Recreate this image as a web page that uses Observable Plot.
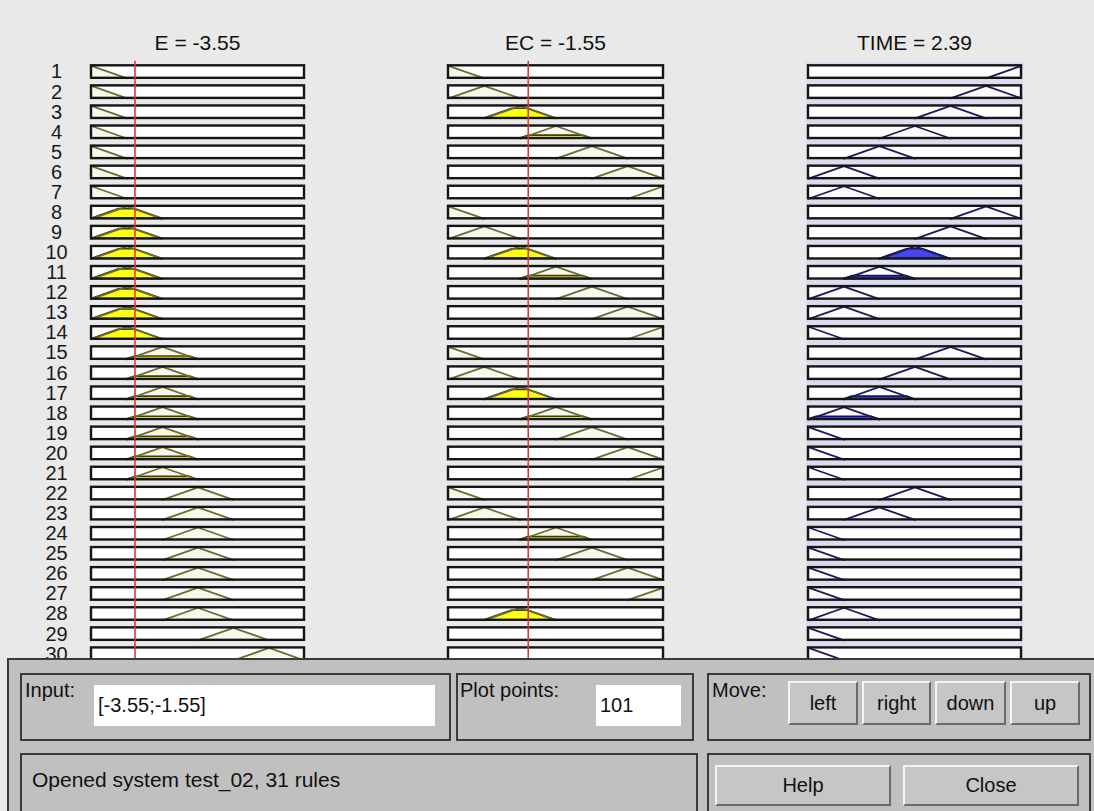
<!DOCTYPE html>
<html>
<head>
<meta charset="utf-8">
<script src="https://cdn.jsdelivr.net/npm/d3@7"></script>
<script src="https://cdn.jsdelivr.net/npm/@observablehq/plot@0.6"></script>
<style>
  html, body { margin: 0; padding: 0; background: #e9e9e9; width: 1094px; height: 811px; overflow: hidden;
    font-family: "Liberation Sans", Arial, sans-serif; color: #111; }
  #stage { position: relative; width: 1094px; height: 811px; overflow: hidden; }
  .col { position: absolute; top: 0; height: 658px; overflow: hidden; }
  .title { position: absolute; top: 31px; font-size: 21px; line-height: 24px; transform: translateX(-50%); white-space: nowrap; }
  #timebg { position: absolute; left: 806px; top: 62px; width: 217px; height: 600px; background: #dcdcee; }
  #panel { position: absolute; left: 7px; top: 658px; width: 1087px; height: 153px; background: #c0c0c0;
    border-top: 2px solid #3a3a3a; border-left: 2px solid #3a3a3a; box-sizing: border-box; z-index: 5; }
  .frame { position: absolute; border: 2px solid #3a3a3a; box-sizing: border-box; z-index: 6; }
  .lbl { position: absolute; font-size: 20px; line-height: 24px; white-space: nowrap; z-index: 7; }
  .field { position: absolute; background: #fff; z-index: 7; font-size: 20px; box-sizing: border-box; padding-left: 4px;
    display: flex; align-items: center; }
  .btn { position: absolute; background: #c6c6c6; z-index: 7; box-sizing: border-box; font-size: 20px;
    border-top: 2px solid #f4f4f4; border-left: 2px solid #f4f4f4; border-right: 2px solid #6a6a6a; border-bottom: 2px solid #6a6a6a;
    display: flex; align-items: center; justify-content: center; }
</style>
</head>
<body>
<div id="stage">
  <div id="timebg"></div>
</div>
<script>
// ---------------- data ----------------
const ruleNumbers = [1,2,3,4,5,6,7,8,9,10,11,12,13,14,15,16,17,18,19,20,21,22,23,24,25,26,27,28,29,30,31];
// rows whose number label is visible above the control panel
const visibleLabels = [1,2,3,4,5,6,7,8,9,10,11,12,13,14,15,16,17,18,19,20,21,22,23,24,25,26,27,28,29,30];
// centre of the triangular membership function used by each rule (null = input not used)
const eCenters    = [-6,-6,-6,-6,-6,-6,-6, -4,-4,-4,-4,-4,-4,-4, -2,-2,-2,-2,-2,-2,-2, 0,0,0,0,0,0,0, 2,4,6];
const ecCenters   = [-6,-4,-2,0,2,4,6, -6,-4,-2,0,2,4,6, -6,-4,-2,0,2,4,6, -6,-4,0,2,4,6,-2, null,null,null];
const timeCenters = [6,5,4,3,2,1,1, 5,4,3,2,1,1,0, 4,3,2,1,0,0,0, 3,2,0,0,0,0,1,0,0,0];
const inputNames  = ["E", "EC", "TIME"];
const inputE = -3.55, inputEC = -1.55, outputTIME = 2.39;
const eDomain = [-6, 6], ecDomain = [-6, 6], timeDomain = [0, 6];
const eHalfWidth = 2, ecHalfWidth = 2, timeHalfWidth = 1;
const inputText = "[-3.55;-1.55]", plotPoints = "101", statusText = "Opened system test_02, 31 rules";

// ---------------- helpers ----------------
const mu = (x, c, w) => Math.max(0, 1 - Math.abs(x - c) / w);
function shape(rule, c, w, dom, h) {
  const [lo, hi] = dom;
  const a = c - w, b = c + w;
  const L = Math.max(lo, a), R = Math.min(hi, b);
  const xs = [a, c - (1 - h) * w, c + (1 - h) * w, b, lo, hi, c].filter(x => x >= L - 1e-9 && x <= R + 1e-9);
  const uniq = Array.from(new Set(xs.map(x => +x.toFixed(6)))).sort((p, q) => p - q);
  return uniq.map(x => ({rule, x, y: Math.min(h, mu(x, c, w))}));
}
const degE  = eCenters.map(c => c == null ? null : mu(inputE, c, eHalfWidth));
const degEC = ecCenters.map(c => c == null ? null : mu(inputEC, c, ecHalfWidth));
const firing = ruleNumbers.map((r, i) => Math.min(degE[i] ?? 1, degEC[i] ?? 1));

function build(centers, w, dom, levels) {
  const full = [], clipped = [];
  centers.forEach((c, i) => {
    if (c == null) return;
    full.push(...shape(ruleNumbers[i], c, w, dom, 1));
    if (levels[i] > 0) clipped.push(...shape(ruleNumbers[i], c, w, dom, levels[i]));
  });
  return {full, clipped};
}

const fyScale = {domain: ruleNumbers, paddingInner: 0.377, paddingOuter: 0, round: false, axis: null};
const H = 690, MT = 65.3, MB = 10;

function column({centers, w, dom, levels, value, lineColor, paleFill, clipFill, clipStroke, labels, left, mLeft, boxW}) {
  const {full, clipped} = build(centers, w, dom, levels);
  const marks = [
    Plot.rect(ruleNumbers, {fy: d => d, x1: dom[0], x2: dom[1], y1: 0, y2: 1, fill: "white"}),
    Plot.areaY(full, {x: "x", y1: 0, y2: "y", fy: "rule", z: "rule", fill: paleFill}),
    Plot.areaY(clipped, {x: "x", y1: 0, y2: "y", fy: "rule", z: "rule", fill: clipFill, stroke: clipStroke, strokeWidth: 1.7}),
    Plot.line(full, {x: "x", y: "y", fy: "rule", z: "rule", stroke: lineColor, strokeWidth: 1.8}),
    Plot.rect(ruleNumbers, {fy: d => d, x1: dom[0], x2: dom[1], y1: 0, y2: 1, fill: "none", stroke: "#151515", strokeWidth: 2.4})
  ];
  if (value != null) marks.push(Plot.ruleX([value], {stroke: "#d23a3a", strokeWidth: 1.6, insetTop: -4.5, insetBottom: -3}));
  if (labels) marks.push(Plot.text(visibleLabels, {fy: d => d, x: dom[0], y: 0.5, text: d => String(d), dx: -35,
      textAnchor: "middle", fontSize: 20, fill: "#1a1a1a"}));
  const svg = Plot.plot({
    width: mLeft + boxW + 10, height: H,
    marginLeft: mLeft, marginRight: 10, marginTop: MT, marginBottom: MB,
    x: {domain: dom, axis: null},
    y: {domain: [0, 1], axis: null},
    fy: fyScale,
    style: {background: "none", fontFamily: "Liberation Sans, Arial, sans-serif", overflow: "visible"},
    marks
  });
  const div = document.createElement("div");
  div.className = "col";
  div.style.left = left + "px";
  div.appendChild(svg);
  document.getElementById("stage").appendChild(div);
}

column({centers: eCenters, w: eHalfWidth, dom: eDomain, levels: degE, value: inputE,
  lineColor: "#6c6c36", paleFill: "#f8f8ea", clipFill: "#ffff14", clipStroke: "#3c3c14", labels: true,
  left: 0, mLeft: 91, boxW: 213});
column({centers: ecCenters, w: ecHalfWidth, dom: ecDomain, levels: degEC, value: inputEC,
  lineColor: "#6c6c36", paleFill: "#f8f8ea", clipFill: "#ffff14", clipStroke: "#3c3c14", labels: false,
  left: 438, mLeft: 10, boxW: 215});
column({centers: timeCenters, w: timeHalfWidth, dom: timeDomain, levels: firing, value: null,
  lineColor: "#1c1c58", paleFill: "#fafaff", clipFill: "#4646ee", clipStroke: "#14145c", labels: false,
  left: 798, mLeft: 10, boxW: 213});

// ---------------- titles ----------------
const stage = document.getElementById("stage");
function add(cls, text, css) {
  const d = document.createElement("div");
  d.className = cls;
  if (text != null) d.textContent = text;
  Object.assign(d.style, css);
  stage.appendChild(d);
  return d;
}
const titleValues = [inputE, inputEC, outputTIME];
const titleCenters = [197.5, 555.5, 914.5];
inputNames.forEach((n, i) => add("title", `${n} = ${titleValues[i]}`, {left: titleCenters[i] + "px"}));

// ---------------- bottom panel ----------------
add("", null, {}).id = "panel";
add("frame", null, {left: "20px", top: "673px", width: "431px", height: "68px"});
add("frame", null, {left: "456px", top: "673px", width: "238px", height: "68px"});
add("frame", null, {left: "707px", top: "673px", width: "384px", height: "68px"});
add("frame", null, {left: "20px", top: "753px", width: "678px", height: "70px"});
add("frame", null, {left: "707px", top: "753px", width: "384px", height: "70px"});
add("lbl", "Input:", {left: "25px", top: "678px"});
add("field", inputText, {left: "94px", top: "685px", width: "341px", height: "41px"});
add("lbl", "Plot points:", {left: "460px", top: "678px"});
add("field", plotPoints, {left: "596px", top: "685px", width: "85px", height: "41px"});
add("lbl", "Move:", {left: "712px", top: "678px"});
[["left", 788, 70], ["right", 862, 69], ["down", 935, 71], ["up", 1010, 70]].forEach(([t, x, w]) =>
  add("btn", t, {left: x + "px", top: "681px", width: w + "px", height: "44px"}));
add("lbl", statusText, {left: "32px", top: "768px", fontSize: "21px"});
add("btn", "Help", {left: "715px", top: "765px", width: "176px", height: "41px"});
add("btn", "Close", {left: "903px", top: "765px", width: "176px", height: "41px"});
</script>
</body>
</html>
